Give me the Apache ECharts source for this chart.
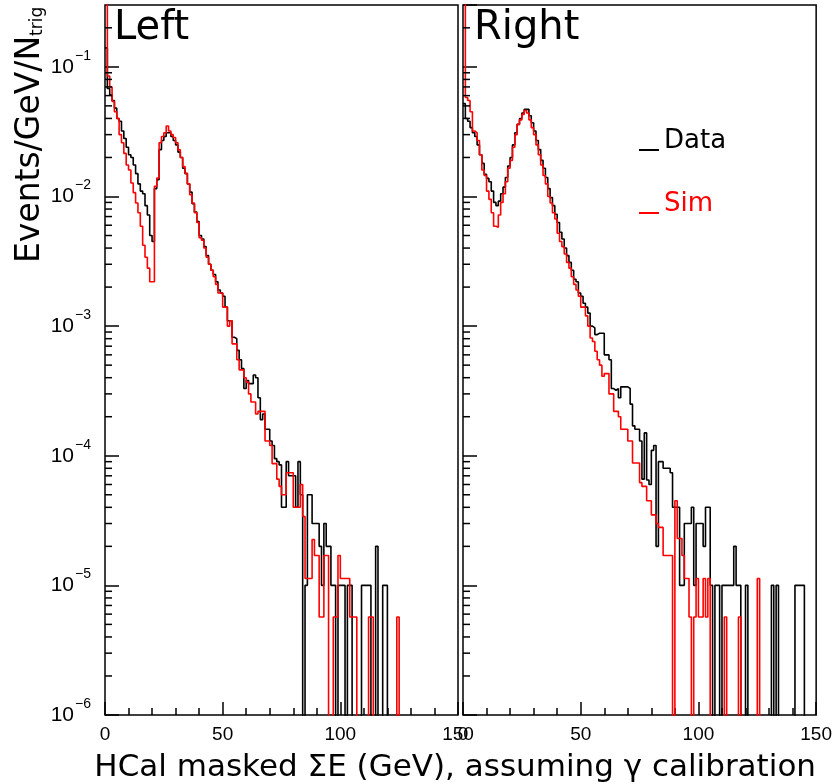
<!DOCTYPE html>
<html><head><meta charset="utf-8">
<script src="https://cdn.jsdelivr.net/npm/echarts@6/dist/echarts.min.js"></script>
<style>html,body{margin:0;padding:0;background:#fff}#c{width:835px;height:784px}</style>
</head><body><div id="c"></div>
<script>
// Histogram bins: 1 GeV wide, starting at 0 GeV; one value per bin (Events/GeV/N_trig)
const BIN_WIDTH = 1;
const leftData = [
0.14,0.068,0.061,0.055,0.048,0.040,0.038,0.032,0.028,0.024,
0.021,0.020,0.0175,0.015,0.0125,0.011,0.0105,0.0085,0.0072,0.0050,
0.0045,0.0115,0.0135,0.023,0.027,0.029,0.031,0.031,0.029,0.027,
0.025,0.022,0.020,0.0165,0.015,0.0125,0.0108,0.0088,0.0076,0.0064,
0.0050,0.0047,0.0041,0.0035,0.0030,0.0027,0.0025,0.0022,0.0019,0.0018,
0.0017,0.0014,0.0011,0.0011,0.00082,0.00080,0.00065,0.00055,0.00047,0.00033,
0.00038,0.00036,0.00036,0.00042,0.00040,0.00028,0.00019,0.00021,0.00016,0.00016,
0.00013,0.00012,0.000095,0.00009,0.000085,0.00004,0.00004,0.00009,0.00007,0.00007,
0.00007,0.00004,0.00009,0.00005,0,0.00001,0.00005,0.00005,0.00003,0.00003,
0.00003,0.00002,0.00001,0.00003,0.00002,0.00002,0.00001,0.00001,0,0.00001,
0.00001,0.00001,0,0.00001,0.00001,0,0,0,0,0.00001,
0.00001,0.00001,0.00001,0,0,0.00002,0,0,0.00001,0.00001,
0,0,0,0,0,0,0,0,0,0,
0,0,0,0,0,0,0,0,0,0,
0,0,0,0,0,0,0,0,0,0];
const leftSim = [
0.5,0.085,0.070,0.054,0.045,0.040,0.030,0.026,0.0215,0.0175,
0.016,0.0127,0.0107,0.0089,0.0075,0.0059,0.0042,0.0034,0.0028,0.0022,
0.0022,0.012,0.0139,0.026,0.029,0.031,0.035,0.032,0.030,0.0285,
0.026,0.0229,0.020,0.017,0.0151,0.0125,0.0103,0.0089,0.0075,0.0063,
0.0048,0.0046,0.0040,0.0034,0.0030,0.0027,0.0024,0.0021,0.0018,0.0018,
0.0014,0.0014,0.0010,0.0011,0.00073,0.00073,0.00055,0.00046,0.00046,0.0004,
0.00037,0.0003,0.00026,0.00026,0.00021,0.00022,0.00022,0.00022,0.00013,0.00013,
0.00012,0.000087,0.000087,0.000066,0.000058,0.00005,0.00005,0.000074,0.000074,0.000074,
0.00004,0.00004,0.00004,0.00006,0.000034,0.0000113,0.0000113,0.0000113,0.0000226,0.000017,
0.000017,0.0000057,0.0000057,0.000017,0.000017,0,0,0.0000057,0.0000057,0.000017,
0.0000113,0.0000113,0.0000113,0.0000113,0.0000057,0.0000057,0.0000057,0,0,0,
0,0,0.0000057,0.0000057,0,0,0,0,0,0,
0,0,0,0,0.0000057,0,0,0,0,0,
0,0,0,0,0,0,0,0,0,0,
0,0,0,0,0,0,0,0,0,0];
const rightData = [
0.052,0.040,0.038,0.034,0.031,0.029,0.025,0.021,0.018,0.0148,
0.0138,0.0130,0.0110,0.0090,0.0085,0.0092,0.0105,0.0118,0.0140,0.0172,
0.020,0.025,0.031,0.036,0.040,0.044,0.047,0.047,0.042,0.037,
0.032,0.027,0.023,0.019,0.0165,0.014,0.0115,0.0098,0.0085,0.0073,
0.0063,0.0053,0.0047,0.0040,0.0035,0.0031,0.0027,0.0023,0.0022,0.0018,
0.0017,0.0015,0.0014,0.00126,0.0010,0.00097,0.00086,0.00088,0.00088,0.00088,
0.0006,0.0006,0.00055,0.00033,0.00032,0.00033,0.00028,0.00034,0.00034,0.00034,
0.00033,0.00025,0.00017,0.00016,0.00016,0.00013,0.000066,0.00015,0.000065,0.00006,
0.00011,0.00012,0.00002,0.00009,0.00009,0.00008,0.00008,0.00008,0.000074,0.00004,
0.00004,0.00004,0.00001,0.00001,0.00003,0.00003,0.00003,0.00004,0.00001,0.00003,
0.00003,0.00003,0.00002,0.00004,0.00004,0.00001,0,0.00001,0.00001,0,
0.00001,0.00001,0.00001,0.00001,0.00001,0.00002,0.00001,0.00001,0,0,
0.00001,0,0,0,0,0,0,0,0,0,
0,0.00001,0,0.00001,0,0,0,0,0,0,
0,0.00001,0.00001,0.00001,0.00001,0,0,0,0,0];
const rightSim = [
0.5,0.058,0.055,0.045,0.032,0.031,0.027,0.021,0.016,0.0145,
0.011,0.0095,0.0075,0.0059,0.0058,0.0072,0.0090,0.0105,0.013,0.0165,
0.019,0.024,0.030,0.036,0.039,0.043,0.046,0.044,0.039,0.034,
0.030,0.025,0.021,0.0175,0.0145,0.0125,0.0100,0.0089,0.0075,0.0067,
0.0052,0.0045,0.0041,0.0036,0.0031,0.0028,0.0024,0.0021,0.0019,0.0017,
0.0014,0.0014,0.0012,0.0010,0.00081,0.00076,0.00064,0.00055,0.0005,0.00041,
0.00043,0.00043,0.0003,0.0003,0.00022,0.00022,0.0002,0.00016,0.00016,0.00016,
0.00013,0.00013,0.000088,0.000088,0.000088,0.000062,0.000058,0.000058,0.000045,0.000045,
0.000035,0.000035,0.00003,0.000028,0.000028,0.000017,0.000017,0.000017,0.000017,0,
0.000045,0.000023,0.000023,0.000017,0.0000113,0.0000113,0.0000057,0,0.0000057,0.0000113,
0.0000057,0.0000057,0.0000113,0.0000057,0.0000113,0,0,0,0,0,
0,0.0000057,0,0,0,0,0,0.0000057,0,0,
0,0,0,0,0,0.0000113,0,0,0,0,
0,0,0,0,0,0,0,0,0,0,
0,0,0,0,0,0,0,0,0,0];

const xRange = [0, 150];
const xMajorStep = 50;
const yRange = [1e-6, 0.3];
const panelNames = ['Left', 'Right'];
const xTitle = 'HCal masked \u03A3E (GeV), assuming \u03B3 calibration';

const FLOOR = 1e-8; // empty bins are drawn down to the frame floor (clipped)
function steps(arr) {
  const pts = [];
  arr.forEach((v, i) => pts.push([i * BIN_WIDTH, v > 0 ? v : FLOOR]));
  const last = arr[arr.length - 1];
  pts.push([arr.length * BIN_WIDTH, last > 0 ? last : FLOOR]);
  pts.push([arr.length * BIN_WIDTH, FLOOR]);
  return pts;
}
// minor log ticks 2..9 x 10^n inside the range
const yMinor = [];
for (let e = -6; e < 0; e++) for (let k = 2; k <= 9; k++) { const v = k * Math.pow(10, e); if (v < yRange[1] * 0.95) yMinor.push(v); }

const FONT = 'DejaVu Sans';
const numFont = 'Liberation Sans';
function yLabel(v) {
  const e = Math.log10(v), r = Math.round(e);
  if (Math.abs(e - r) > 1e-6) return '';
  return '{b|10}{s|\u2212' + (-r) + '}';
}
const grids = [
  {left: 105, top: 5, width: 353, height: 710},
  {left: 463, top: 5, width: 354, height: 710}
];
const option = {
  animation: false,
  backgroundColor: '#fff',
  grid: grids.map(g => Object.assign({show: true, borderColor: '#000', borderWidth: 1.5, backgroundColor: 'transparent'}, g)),
  xAxis: [0, 1].map(i => ({
    gridIndex: i, type: 'value', min: xRange[0], max: xRange[1], interval: xMajorStep,
    axisLine: {show: false}, splitLine: {show: false},
    axisTick: {inside: true, length: 13, lineStyle: {color: '#000', width: 1.5}},
    minorTick: {show: true, splitNumber: 5, length: 7, lineStyle: {color: '#000', width: 1.5}},
    axisLabel: {color: '#000', fontSize: 19, fontFamily: numFont, margin: 10, showMinLabel: true, showMaxLabel: true, hideOverlap: false}
  })),
  yAxis: [0, 1].map(i => ({
    gridIndex: i, type: 'log', logBase: 10, min: yRange[0], max: yRange[1], interval: 1,
    axisLine: {show: false}, splitLine: {show: false},
    axisTick: {inside: true, length: 14, lineStyle: {color: '#000', width: 1.5}},
    axisLabel: {show: i === 0, formatter: yLabel, margin: 14, showMaxLabel: false,
      rich: {b: {fontSize: 21, fontFamily: numFont, color: '#000'},
             s: {fontSize: 14, fontFamily: numFont, color: '#000', padding: [0, 0, 22, 1]}}}
  })),
  title: [
    {text: panelNames[0], left: 114, top: 9, padding: 0, textStyle: {fontSize: 40, fontWeight: 'normal', fontFamily: FONT, color: '#000'}},
    {text: panelNames[1], left: 474, top: 9, padding: 0, textStyle: {fontSize: 40, fontWeight: 'normal', fontFamily: FONT, color: '#000'}},
    {text: xTitle, right: 19, top: 752, padding: 0, textStyle: {fontSize: 31, fontWeight: 'normal', fontFamily: FONT, color: '#000'}}
  ],
  legend: {
    orient: 'vertical', left: 639, top: 128, padding: 0, itemWidth: 20, itemHeight: 20, itemGap: 37, itemTextGap: 8,
    selectedMode: false, icon: 'path://M0,0L0,0M0,18L20,18L20,20L0,20Z',
    data: [{name: 'Data', textStyle: {color: '#000'}}, {name: 'Sim', textStyle: {color: '#ff0000'}}],
    textStyle: {fontSize: 26, fontFamily: FONT}
  },
  graphic: [{
    type: 'text', x: 30, y: 263, rotation: Math.PI / 2,
    style: {text: '{a|Events/GeV/N}{b|trig}', align: 'left', verticalAlign: 'middle',
      rich: {a: {fontSize: 33, fontFamily: FONT, fill: '#000'}, b: {fontSize: 17, fontFamily: FONT, fill: '#000', padding: [16, 0, 0, 0]}}}
  }],
  series: []
};
const sets = [[leftData, leftSim], [rightData, rightSim]];
sets.forEach((pair, i) => {
  [['Data', '#000000', pair[0]], ['Sim', '#ff0000', pair[1]]].forEach(([name, color, arr], j) => {
    option.series.push({
      name, type: 'line', step: 'end', xAxisIndex: i, yAxisIndex: i, data: steps(arr),
      symbol: 'none', showSymbol: false, clip: true, z: 2 + j,
      color, lineStyle: {color, width: 1.6}, itemStyle: {color}
    });
  });
  option.series.push({
    type: 'custom', xAxisIndex: i, yAxisIndex: i, silent: true, clip: false, z: 5,
    data: yMinor.map(v => [xRange[0], v]),
    renderItem: (params, api) => {
      const p = api.coord([api.value(0), api.value(1)]);
      return {type: 'line', shape: {x1: p[0], y1: p[1], x2: p[0] + 7, y2: p[1]}, style: {stroke: '#000', lineWidth: 1.5}};
    }
  });
});
const chart = echarts.init(document.getElementById('c'));
chart.setOption(option);
</script></body></html>
